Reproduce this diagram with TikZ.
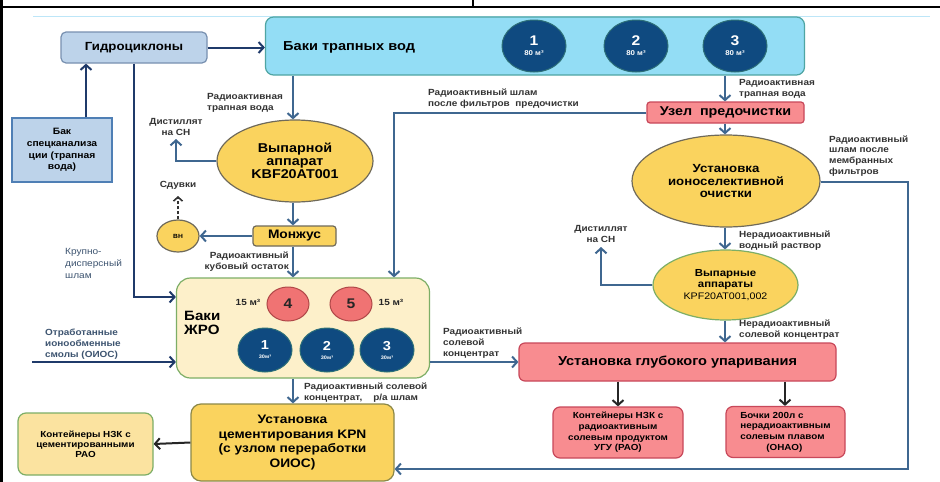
\documentclass[tikz,border=0pt]{standalone}
\usepackage{fontspec}
\setmainfont{Liberation Sans}[FakeStretch=1.12]
\usetikzlibrary{arrows.meta,shapes.geometric}
\definecolor{arrc}{HTML}{3F6790}
\definecolor{darkarr}{HTML}{1F3A6A}
\definecolor{labc}{HTML}{333333}
\definecolor{hydrofill}{HTML}{BDD3EA}
\definecolor{hydrodraw}{HTML}{7890B0}
\definecolor{specdraw}{HTML}{4F7FB5}
\definecolor{trapfill}{HTML}{93DDF5}
\definecolor{trapdraw}{HTML}{4FA5A3}
\definecolor{navy}{HTML}{0F4A80}
\definecolor{navydraw}{HTML}{2D6F78}
\definecolor{yel}{HTML}{FAD35E}
\definecolor{yeldraw}{HTML}{6F6A5A}
\definecolor{cream}{HTML}{FDF0CA}
\definecolor{greendraw}{HTML}{7DAE66}
\definecolor{redc}{HTML}{F07373}
\definecolor{reddraw}{HTML}{B04848}
\definecolor{salmon}{HTML}{F88C90}
\definecolor{salmondraw}{HTML}{C8485A}
\definecolor{lightyel}{HTML}{FBE3A0}
\definecolor{topline}{HTML}{BDE6F8}
\definecolor{softlab}{HTML}{3D5470}
\begin{document}
\begin{tikzpicture}[x=1pt,y=-1pt,
  arr/.style={draw=arrc,line width=2pt,-{Straight Barb[length=5pt,width=11pt,line width=2pt]}},
  darrow/.style={draw=darkarr,line width=2pt,-{Straight Barb[length=5pt,width=11pt,line width=2pt]}},
  barrow/.style={draw=black!85,line width=2pt,-{Straight Barb[length=5pt,width=11pt,line width=2pt]}},
  lbl/.style={font=\bfseries\fontsize{8.9}{10.8}\selectfont,text=labc,inner sep=0pt,align=left},
  box/.style={rounded corners=5pt,line width=1.2pt,inner sep=1pt,align=center,text=black},
  ell/.style={ellipse,inner sep=0pt,line width=1.2pt,align=center,text=black},
  tank/.style={ellipse,fill=navy,draw=navydraw,line width=1pt,inner sep=0pt,minimum width=64pt,minimum height=52pt,text=white,align=center,font=\bfseries\fontsize{14}{11}\selectfont},
  stank/.style={ellipse,fill=navy,draw=navydraw,line width=1pt,inner sep=0pt,minimum width=54pt,minimum height=44pt,text=white,align=center,font=\bfseries\fontsize{13}{10}\selectfont},
  rtank/.style={ellipse,fill=redc,draw=reddraw,line width=1pt,inner sep=0pt,minimum width=42pt,minimum height=34pt,text=black!85,font=\bfseries\fontsize{14}{13}\selectfont}
]
\useasboundingbox (0,0) rectangle (940,482);
\fill[white] (0,0) rectangle (940,482);
% frame
\draw[line width=2.5pt] (0,7) -- (940,7);
\draw[line width=3pt] (1,0) -- (1,482);
\draw[line width=1.5pt] (473,0) -- (473,7);
\draw[topline,line width=1pt] (33,16) -- (930,16);

% nodes
\node[box,fill=hydrofill,draw=hydrodraw,minimum width=146pt,minimum height=31pt,font=\bfseries\fontsize{11.8}{13}\selectfont] (hydro) at (134,47.5) {Гидроциклоны};
\node[box,rounded corners=8pt,fill=trapfill,draw=trapdraw,minimum width=539pt,minimum height=58pt] (traps) at (535,46) {};
\node[font=\bfseries\fontsize{13}{14}\selectfont,anchor=west,inner sep=0pt] (trapstxt) at (283,47) {Баки трапных вод};
\node[tank] (t1) at (534,46) {1\\[-1pt]{\fontsize{7}{7}\selectfont 80 м³}};
\node[tank] (t2) at (636,46) {2\\[-1pt]{\fontsize{7}{7}\selectfont 80 м³}};
\node[tank] (t3) at (735,46) {3\\[-1pt]{\fontsize{7}{7}\selectfont 80 м³}};

\node[box,rounded corners=0pt,fill=hydrofill,draw=specdraw,minimum width=100pt,minimum height=64pt,font=\bfseries\fontsize{9.2}{11.8}\selectfont] (spec) at (62,150) {Бак\\спецканализа\\ции (трапная\\вода)};

\node[ell,fill=yel,draw=yeldraw,minimum width=156pt,minimum height=82pt,font=\bfseries\fontsize{12.8}{13}\selectfont] (vyp) at (295,161) {Выпарной\\аппарат\\KBF20AT001};
\node[box,rounded corners=3pt,fill=yel,draw=yeldraw,minimum width=83pt,minimum height=20pt,font=\bfseries\fontsize{12.3}{13}\selectfont] (monzh) at (294.5,236) {Монжус};
\node[ell,fill=yel,draw=yeldraw,minimum width=42pt,minimum height=32pt,font=\bfseries\fontsize{6}{6}\selectfont] (vn) at (178,236) {ВН};

\node[box,rounded corners=14pt,fill=cream,draw=greendraw,minimum width=253pt,minimum height=100pt] (zhro) at (303,328) {};
\node[font=\bfseries\fontsize{13.5}{14.5}\selectfont,anchor=west,align=left,inner sep=0pt] (zhrotxt) at (184,323) {Баки\\ЖРО};
\node[rtank] (r4) at (288,304) {4};
\node[rtank] (r5) at (351,304) {5};
\node[lbl,text=black!85] (v4) at (248,302) {15 м³};
\node[lbl,text=black!85] (v5) at (391,302) {15 м³};
\node[stank] (s1) at (265,350) {1\\[-1pt]{\fontsize{5}{5}\selectfont 30м³}};
\node[stank] (s2) at (327,350) {2\\[-1pt]{\fontsize{5}{5}\selectfont 30м³}};
\node[stank] (s3) at (387,350) {3\\[-1pt]{\fontsize{5}{5}\selectfont 30м³}};

\node[box,rounded corners=10pt,fill=yel,draw=yeldraw!80!yellow,minimum width=203pt,minimum height=77pt,font=\bfseries\fontsize{12.3}{14.5}\selectfont] (cem) at (292.5,442.5) {Установка\\цементирования KPN\\(с узлом переработки\\ОИОС)};
\node[box,rounded corners=8pt,fill=lightyel,draw=greendraw,minimum width=135pt,minimum height=62pt,font=\bfseries\fontsize{8.8}{10}\selectfont] (kont1) at (85.5,444) {Контейнеры НЗК с\\цементированными\\РАО};

\node[box,rounded corners=3pt,fill=salmon,draw=salmondraw,minimum width=157pt,minimum height=21pt,font=\bfseries\fontsize{12.8}{13}\selectfont] (uzel) at (725.5,112.5) {Узел\ \ предочистки};
\node[ell,fill=yel,draw=yeldraw,minimum width=188pt,minimum height=92pt,font=\bfseries\fontsize{11.8}{12.8}\selectfont] (ion) at (726,181) {Установка\\ионоселективной\\очистки};
\node[ell,fill=yel,draw=greendraw,minimum width=145pt,minimum height=70pt,font=\bfseries\fontsize{10.2}{11.5}\selectfont] (vyp2) at (725.5,285) {Выпарные\\аппараты\\\mdseries\fontsize{9.5}{11}\selectfont KPF20AT001,002};
\node[box,rounded corners=6pt,fill=salmon,draw=salmondraw,minimum width=317pt,minimum height=38pt,font=\bfseries\fontsize{13}{14}\selectfont] (glub) at (677.5,362) {Установка глубокого упаривания};
\node[box,rounded corners=7pt,fill=salmon,draw=salmondraw,minimum width=130pt,minimum height=51pt,font=\bfseries\fontsize{8.8}{10.6}\selectfont] (kont2) at (618,432.5) {Контейнеры НЗК с\\радиоактивным\\солевым продуктом\\УГУ (РАО)};
\node[box,rounded corners=7pt,fill=salmon,draw=salmondraw,minimum width=119pt,minimum height=51pt,font=\bfseries\fontsize{8.8}{10.6}\selectfont,align=left] (boch) at (785.5,432) {Бочки 200л с\\нерадиоактивным\\солевым плавом\\\hspace*{26pt}(ОНАО)};

% helper coordinates
\coordinate (x86) at (86,0);
\coordinate (x134) at (134,0);
\coordinate (y297) at (0,297);
\coordinate (y362) at (0,362);
\coordinate (oios) at (32,362);
\coordinate (dist1) at (176,139);
\coordinate (sduv) at (178,196);
\coordinate (x394) at (394,0);
\coordinate (x725) at (725,0);
\coordinate (x293) at (293,0);
\coordinate (frameR) at (908,182);
\coordinate (y469) at (0,469);
\coordinate (dist2) at (601,247);
\coordinate (x618) at (618,0);
\coordinate (x785) at (785,0);

% connectors
\draw[darrow] (hydro.east) -- (traps.west |- hydro.east);
\draw[darrow] (spec.north -| x86) -- (hydro.south -| x86);
\draw[darrow] (hydro.south -| x134) -- (x134 |- y297) -- (zhro.west |- y297);
\draw[darrow] (oios) -- (zhro.west |- oios);
\draw[arr] (traps.south -| x293) -- (vyp.north -| x293);
\draw[arr] (vyp.west) -| (dist1);
\draw[arr] (vyp.south -| x293) -- (monzh.north -| x293);
\draw[arr] (monzh.west) -- (vn.east);
\draw[draw=black!80,line width=1.6pt,dash pattern=on 3pt off 2pt,-{Straight Barb[length=4pt,width=9pt,line width=1.6pt]}] (vn.north) -- (sduv);
\draw[arr] (monzh.south -| x293) -- (zhro.north -| x293);
\draw[arr] (uzel.west) -| (zhro.north -| x394);
\draw[arr] (traps.south -| x725) -- (uzel.north -| x725);
\draw[arr] (uzel.south -| x725) -- (ion.north -| x725);
\draw[arr] (ion.east |- frameR) -- (frameR) -- (frameR |- y469) -- (cem.east |- y469);
\draw[arr] (ion.south -| x725) -- (vyp2.north -| x725);
\draw[arr] (vyp2.west) -| (dist2);
\draw[arr] (vyp2.south -| x725) -- (glub.north -| x725);
\draw[arr] (zhro.east |- y362) -- (glub.west |- y362);
\draw[arr] (zhro.south -| x293) -- (cem.north -| x293);
\draw[barrow] (cem.west) -- (kont1.east);
\draw[barrow] (glub.south -| x618) -- (kont2.north -| x618);
\draw[barrow] (glub.south -| x785) -- (boch.north -| x785);

% labels
\node[lbl,anchor=west] (l1) at (207,103) {Радиоактивная\\трапная вода};
\node[lbl,anchor=south,align=center] (l2) at (dist1) [yshift=3pt] {Дистиллят\\на СН};
\node[lbl,anchor=south] (l3) at (sduv) [yshift=6pt] {Сдувки};
\node[lbl,anchor=east,align=right] (l4) at (289,262) {Радиоактивный\\кубовый остаток};
\node[lbl,anchor=west,font=\fontsize{9}{12}\selectfont,text=softlab] (l5) at (65,263) {Крупно-\\дисперсный\\шлам};
\node[lbl,anchor=west,text=softlab] (l6) at (45,344) {Отработанные\\ионообменные\\смолы (ОИОС)};
\node[lbl,anchor=west] (l7) at (428,99) {Радиоактивный шлам\\после фильтров\ \ предочистки};
\node[lbl,anchor=west] (l8) at (739,89) {Радиоактивная\\трапная вода};
\node[lbl,anchor=west] (l9) at (829,156) {Радиоактивный\\шлам после\\мембранных\\фильтров};
\node[lbl,anchor=west] (l10) at (739,241) {Нерадиоактивный\\водный раствор};
\node[lbl,anchor=south,align=center] (l11) at (dist2) [yshift=4pt] {Дистиллят\\на СН};
\node[lbl,anchor=west] (l12) at (739,330) {Нерадиоактивный\\солевой концентрат};
\node[lbl,anchor=west] (l13) at (443,343) {Радиоактивный\\солевой\\концентрат};
\node[lbl,anchor=west] (l14) at (304,393) {Радиоактивный солевой\\концентрат,\ \ \ \ р/а шлам};
\end{tikzpicture}
\end{document}
